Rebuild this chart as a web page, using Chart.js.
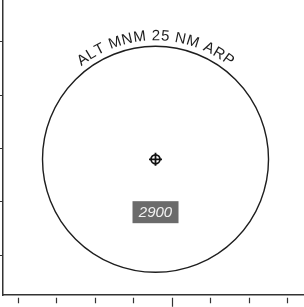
<!DOCTYPE html>
<html>
<head>
<meta charset="utf-8">
<script src="https://cdn.jsdelivr.net/npm/chart.js@4.4.0/dist/chart.umd.min.js"></script>
<style>
html, body { margin: 0; padding: 0; background: #fff; }
#wrap { width: 304px; height: 307px; }
</style>
</head>
<body>
<div id="wrap"><canvas id="chart" width="304" height="307"></canvas></div>
<script>
// all positions in NM, airport reference point at the origin
const arpPoint = [{ x: 0, y: 0 }];
const circleRadiusNm = 25;
const arcLabel = "ALT MNM 25 NM ARP";
const altitudeLabel = "2900";
const altitudePoint = { x: 0, y: -11.7 };
const xRange = [-33.74, 32.85];
const yRange = [-30.02, 35.24];
const xTicks = [-30.35, -21.83, -13.31, -4.79, 3.73, 12.25, 20.77, 29.29];
const yTicks = [26.0, 14.2, 2.4, -9.4, -21.2];
const majorXTick = 3.73;

const msaLabels = {
    id: "msaLabels",
    afterDatasetsDraw(chart) {
        const { ctx, scales: { x, y } } = chart;
        const cx = x.getPixelForValue(0);
        const cy = y.getPixelForValue(0);
        const r = x.getPixelForValue(circleRadiusNm) - cx;

        // text bent round the top of the circle
        ctx.save();
        ctx.font = "15px 'Liberation Sans', Arial, sans-serif";
        ctx.fillStyle = "#1e1e1e";
        ctx.textBaseline = "alphabetic";
        ctx.textAlign = "left";
        const baseR = r + 6;
        const spacing = 0.6;
        const chars = arcLabel.split("");
        const widths = chars.map(c => ctx.measureText(c).width);
        const total = widths.reduce((a, b) => a + b, 0) + spacing * (chars.length - 1);
        let angle = -total / 2 / baseR;
        chars.forEach((c, i) => {
            const w = widths[i];
            const mid = angle + w / 2 / baseR;
            ctx.save();
            ctx.translate(cx + baseR * Math.sin(mid), cy - baseR * Math.cos(mid));
            ctx.rotate(mid);
            ctx.fillText(c, -w / 2, 0);
            ctx.restore();
            angle += (w + spacing) / baseR;
        });
        ctx.restore();

        // altitude box
        const bx = x.getPixelForValue(altitudePoint.x);
        const by = y.getPixelForValue(altitudePoint.y);
        ctx.save();
        ctx.fillStyle = "#6b6b6b";
        ctx.fillRect(bx - 23, by - 11, 46, 22);
        ctx.font = "italic 15px 'Liberation Sans', Arial, sans-serif";
        ctx.fillStyle = "#f2f2f2";
        ctx.textAlign = "center";
        ctx.textBaseline = "middle";
        ctx.fillText(altitudeLabel, bx, by + 1);
        ctx.restore();
    }
};

function circlePixels(ctx) {
    const x = ctx.chart.scales.x;
    return x.getPixelForValue(circleRadiusNm) - x.getPixelForValue(0);
}

new Chart(document.getElementById("chart"), {
    type: "scatter",
    data: {
        datasets: [
            {
                data: arpPoint,
                pointStyle: "circle",
                pointRadius: circlePixels,
                pointBorderWidth: 1.4,
                pointBorderColor: "#1e1e1e",
                pointBackgroundColor: "rgba(0,0,0,0)"
            },
            {
                data: arpPoint,
                pointStyle: "circle",
                pointRadius: 4.5,
                pointBorderWidth: 1.8,
                pointBorderColor: "#111",
                pointBackgroundColor: "rgba(0,0,0,0)"
            },
            {
                data: arpPoint,
                pointStyle: "cross",
                pointRadius: 6.5,
                pointBorderWidth: 1.8,
                pointBorderColor: "#111"
            }
        ]
    },
    options: {
        responsive: false,
        animation: false,
        events: [],
        layout: { padding: 0, autoPadding: false },
        plugins: {
            legend: { display: false },
            tooltip: { enabled: false }
        },
        scales: {
            x: {
                type: "linear",
                min: xRange[0],
                max: xRange[1],
                afterBuildTicks: scale => {
                    scale.ticks = xTicks.map(v => ({ value: v }));
                },
                ticks: { display: false },
                grid: {
                    drawOnChartArea: false,
                    drawTicks: true,
                    tickLength: 12,
                    tickWidth: 1.2,
                    tickColor: "#333",
                    tickBorderDash: c => (c.tick && c.tick.value === majorXTick) ? [0, 2.25, 9, 20] : [0, 2.25, 5.5, 20]
                },
                border: { display: true, color: "#333", width: 1.5 }
            },
            y: {
                type: "linear",
                min: yRange[0],
                max: yRange[1],
                afterBuildTicks: scale => {
                    scale.ticks = yTicks.map(v => ({ value: v }));
                },
                ticks: { display: false },
                grid: {
                    drawOnChartArea: false,
                    drawTicks: true,
                    tickLength: 3,
                    tickWidth: 1.2,
                    tickColor: "#333"
                },
                border: { display: true, color: "#333", width: 1.5 }
            }
        }
    },
    plugins: [msaLabels]
});
</script>
</body>
</html>
